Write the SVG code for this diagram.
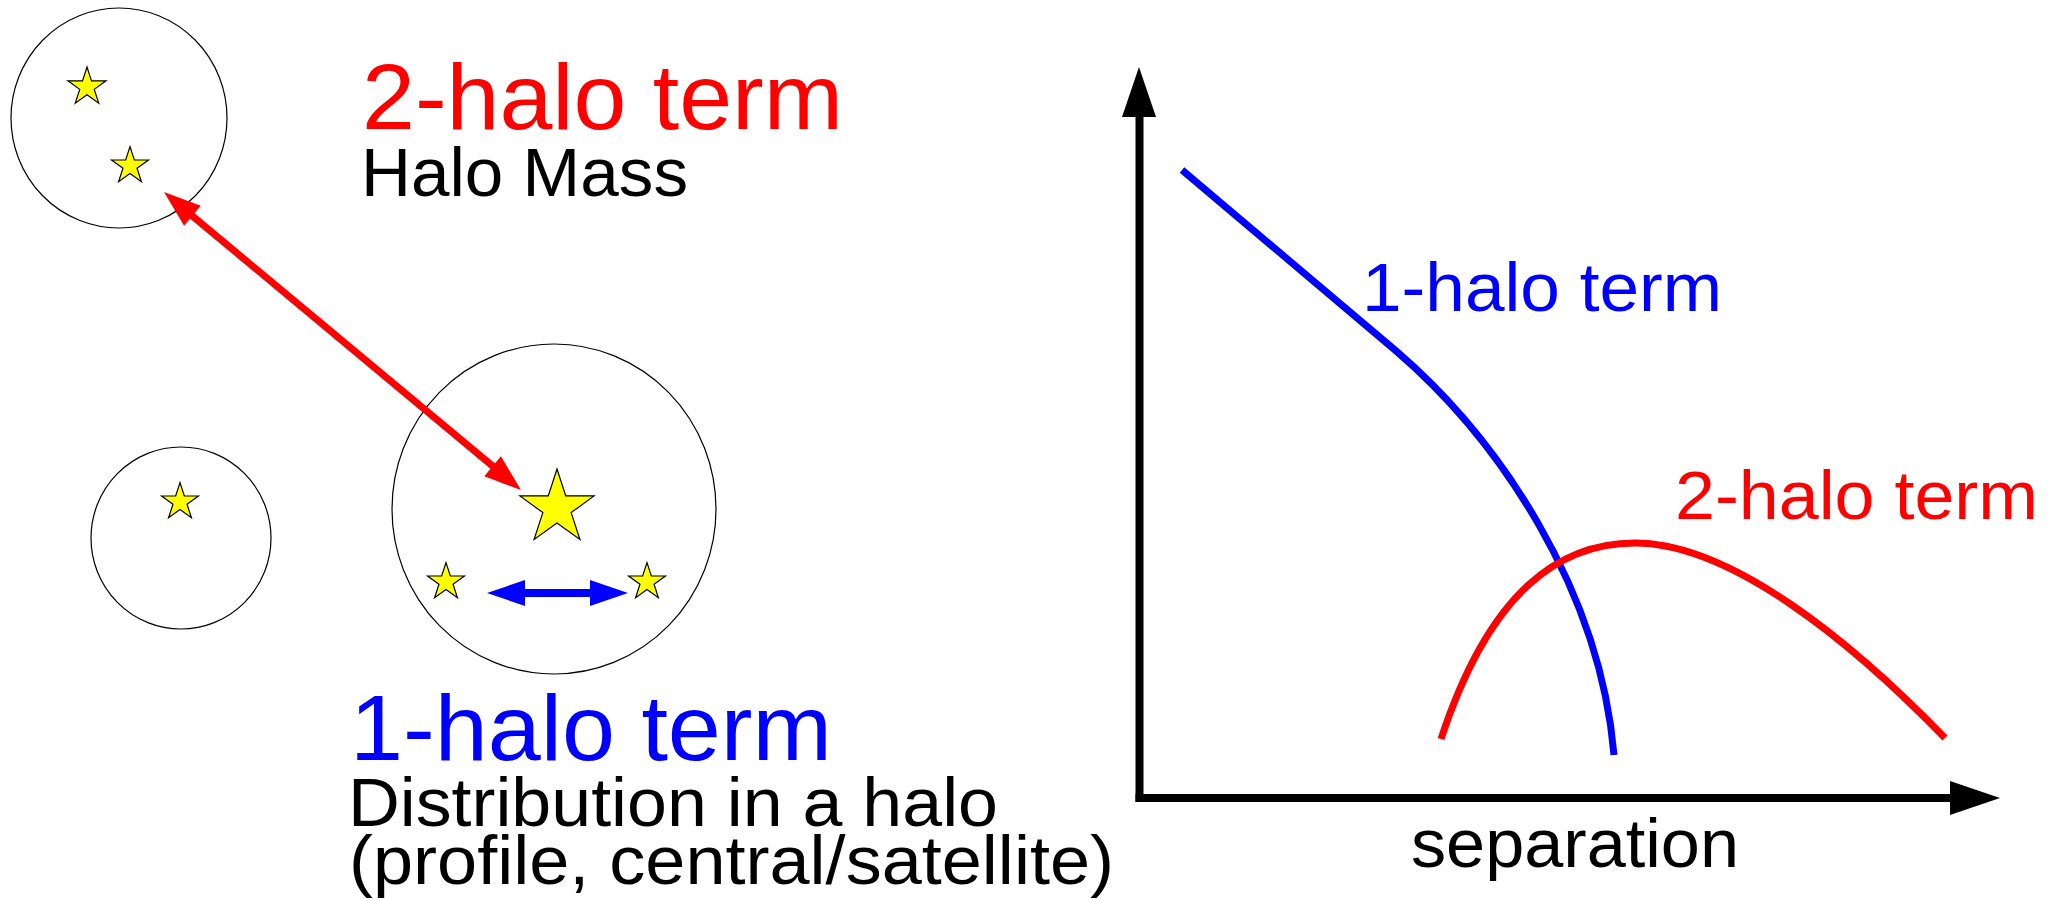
<svg xmlns="http://www.w3.org/2000/svg" xmlns:xlink="http://www.w3.org/1999/xlink" width="2062" height="900" viewBox="0 0 2062 900">
<style>
.halo{fill:none;stroke:#000;stroke-width:1.2}
.st{fill:#ffff00;stroke:#000;stroke-width:1.2;vector-effect:non-scaling-stroke}
.t{font-family:"Liberation Sans",Arial,sans-serif}
.big{font-size:92px}
.mid{font-size:68px}
.red{fill:#ff0000}
.blue{fill:#0000ff}
.blk{fill:#000}
</style>
<defs>
<path id="star" class="st" d="M0,-20 L4.49,-6.18 L19.02,-6.18 L7.26,2.36 L11.76,16.18 L0,7.64 L-11.76,16.18 L-7.26,2.36 L-19.02,-6.18 L-4.49,-6.18 Z"/>
</defs>
<rect width="2062" height="900" fill="#fff"/>

<g id="halo-top-left">
<ellipse class="halo" cx="119" cy="118" rx="108" ry="110"/>
<use xlink:href="#star" transform="translate(87,87)"/>
<use xlink:href="#star" transform="translate(130,166) scale(0.97)"/>
</g>
<g id="halo-small">
<ellipse class="halo" cx="181" cy="538" rx="90" ry="91"/>
<use xlink:href="#star" transform="translate(180,502) scale(0.97)"/>
</g>
<g id="halo-main">
<ellipse class="halo" cx="554" cy="509" rx="162" ry="165"/>
<use xlink:href="#star" transform="translate(557,508) scale(1.95)"/>
<use xlink:href="#star" transform="translate(446,582) scale(0.97)"/>
<use xlink:href="#star" transform="translate(647,582) scale(0.97)"/>
</g>

<g id="connectors">
<line x1="190" y1="214" x2="495" y2="468" stroke="#ff0000" stroke-width="7"/>
<polygon points="164,192 184.1,225.7 200.7,205.7" fill="#ff0000"/>
<polygon points="521,490 484.3,476.3 500.9,456.3" fill="#ff0000"/>
<line x1="522" y1="593" x2="593" y2="593" stroke="#0000ff" stroke-width="8"/>
<polygon points="487,593 525,580 525,606" fill="#0000ff"/>
<polygon points="628,593 590,580 590,606" fill="#0000ff"/>
</g>

<g id="labels-left">
<text class="t big red" x="362" y="129" textLength="481" lengthAdjust="spacingAndGlyphs">2-halo term</text>
<text class="t mid blk" x="361" y="196" textLength="327" lengthAdjust="spacingAndGlyphs">Halo Mass</text>
<text class="t big blue" x="350" y="760" textLength="482" lengthAdjust="spacingAndGlyphs">1-halo term</text>
<text class="t mid blk" x="348" y="826" textLength="650" lengthAdjust="spacingAndGlyphs">Distribution in a halo</text>
<text class="t mid blk" x="349" y="884" textLength="765" lengthAdjust="spacingAndGlyphs">(profile, central/satellite)</text>
</g>

<g id="plot">
<line x1="1139.5" y1="110" x2="1139.5" y2="802" stroke="#000" stroke-width="8"/>
<polygon points="1139,67 1122,117 1156,117" fill="#000"/>
<line x1="1135.5" y1="798" x2="1955" y2="798" stroke="#000" stroke-width="8"/>
<polygon points="2000,798 1950,781 1950,815" fill="#000"/>
<path d="M1182,170 L1395,350 C1500,440 1600,590 1614,755" fill="none" stroke="#0000ff" stroke-width="7"/>
<path d="M1441,739 C1490,590 1560,543 1635,543 C1730,543 1850,640 1945,738" fill="none" stroke="#ff0000" stroke-width="7"/>
<text class="t mid blue" x="1362" y="311" textLength="360" lengthAdjust="spacingAndGlyphs">1-halo term</text>
<text class="t mid red" x="1675" y="519" textLength="363" lengthAdjust="spacingAndGlyphs">2-halo term</text>
<text class="t mid blk" x="1411" y="867" textLength="328" lengthAdjust="spacingAndGlyphs">separation</text>
</g>
</svg>
